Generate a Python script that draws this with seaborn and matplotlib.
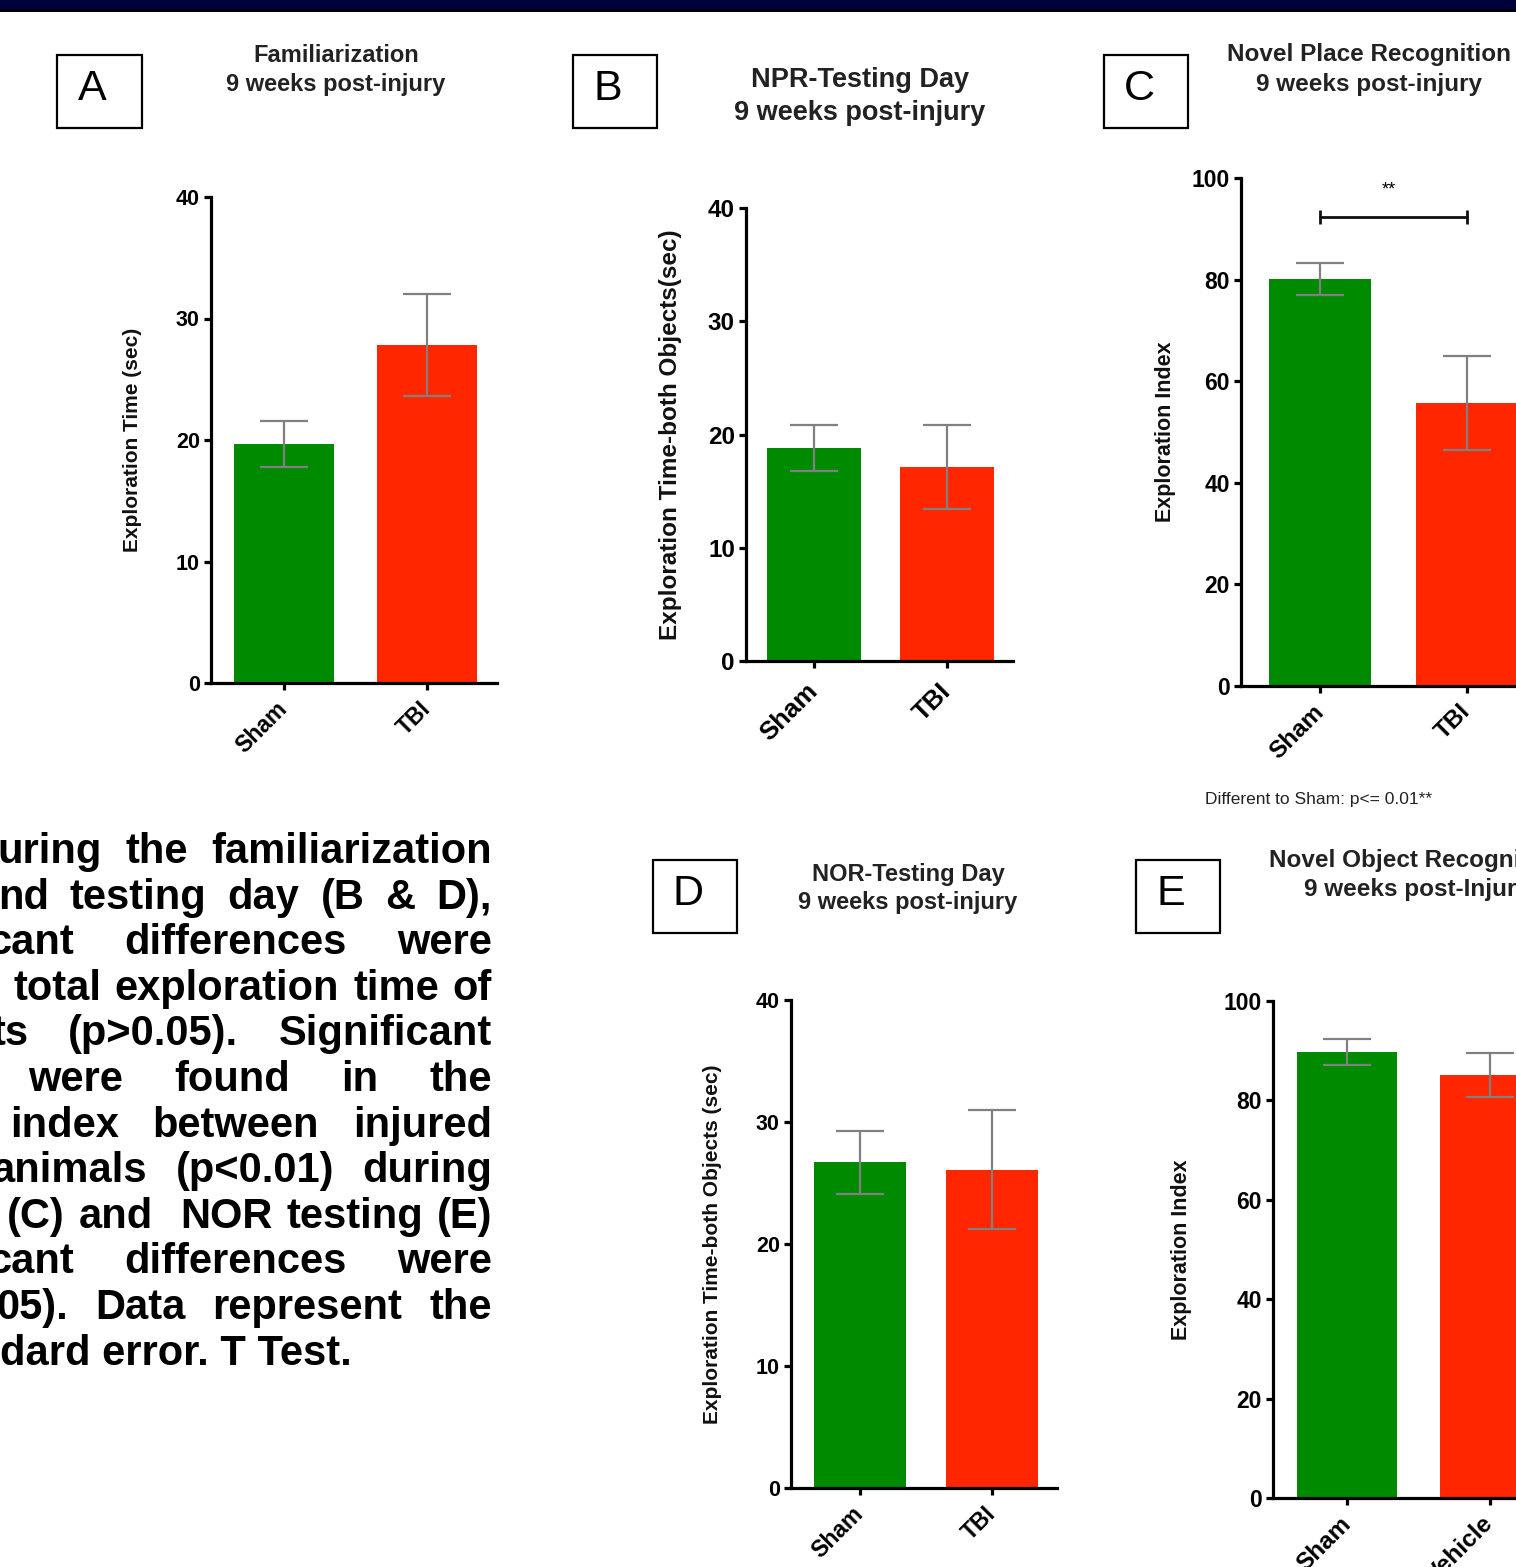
import matplotlib
matplotlib.use("Agg")
import matplotlib.pyplot as plt
import seaborn as sns
import pandas as pd
from matplotlib.patches import Rectangle

W, H = 1516, 1567
GREEN = "#008a00"
RED = "#ff2600"
GRAY = "#808080"

# ---- data read from the poster ----
groups_tbi = ["Sham", "TBI"]
groups_veh = ["Sham", "Vehicle"]

fam_mean = [19.7, 27.8]          # A: familiarization, exploration time (sec)
fam_sem = [1.9, 4.2]
npr_day_mean = [18.8, 17.1]      # B: NPR testing day, time both objects (sec)
npr_day_sem = [2.0, 3.7]
npr_idx_mean = [80.1, 55.7]      # C: novel place recognition, exploration index
npr_idx_sem = [3.1, 9.2]
npr_sig_y = 92.3
nor_day_mean = [26.7, 26.1]      # D: NOR testing day, time both objects (sec)
nor_day_sem = [2.6, 4.9]
nor_idx_mean = [89.7, 85.1]      # E: novel object recognition, exploration index
nor_idx_sem = [2.6, 4.5]

ticks_40 = [0, 10, 20, 30, 40]
ticks_100 = [0, 20, 40, 60, 80, 100]

para_lines = [
    "uring the familiarization",
    "nd testing day (B & D),",
    "cant differences were",
    "total exploration time of",
    "ts (p>0.05). Significant",
    "were found in the",
    "index between injured",
    "animals (p<0.01) during",
    "(C) and  NOR testing (E)",
    "cant differences were",
    "05). Data represent the",
    "dard error. T Test.",
]
# x of the first glyph of each line (negative = clipped by the crop)
para_start = [-3, -2, -12, 13, -9, 28, 10, -8, 7, -12, -4, 0]

sns.set_style("ticks")
plt.rcParams["font.family"] = ["Liberation Sans", "DejaVu Sans"]
plt.rcParams["font.weight"] = "bold"
plt.rcParams["text.color"] = "black"
plt.rcParams["axes.labelcolor"] = "black"
plt.rcParams["xtick.color"] = "black"
plt.rcParams["ytick.color"] = "black"

fig = plt.figure(figsize=(W / 100, H / 100), dpi=100)


def fx(x):
    return x / W


def fy(y):
    return 1 - y / H


# poster header strip
fig.add_artist(Rectangle((0, fy(9)), 1, 9 / H, transform=fig.transFigure, color="#00003a", lw=0))
fig.add_artist(Rectangle((0, fy(12)), 1, 3 / H, transform=fig.transFigure, color="black", lw=0))


def bar_panel(box, cats, means, sems, ymax, yticks, ylabel, fs, lab_fs, lab_x, xpad):
    left, right, top, bottom, t0, t1 = box
    ax = fig.add_axes([fx(left), fy(bottom), (right - left) / W, (bottom - top) / H])
    df = pd.DataFrame({"group": cats, "value": means})
    sns.barplot(data=df, x="group", y="value", hue="group", palette=[GREEN, RED],
                saturation=1, width=0.7, errorbar=None, legend=False, ax=ax,
                edgecolor="none")
    ax.errorbar(range(len(cats)), means, yerr=sems, fmt="none", ecolor=GRAY,
                elinewidth=1.6, capsize=17.5, capthick=1.6, zorder=3)
    ax.set_xlim((left - t0) / (t1 - t0), (right - t0) / (t1 - t0))
    ax.set_ylim(0, ymax)
    ax.set_yticks(yticks)
    ax.set_yticklabels([str(t) for t in yticks], fontsize=fs, fontweight="bold")
    ax.set_xticks(range(len(cats)))
    ax.set_xticklabels(cats, rotation=45, ha="right", va="center", rotation_mode="anchor",
                       fontsize=fs + 1, fontweight="bold")
    ax.set_xlabel("")
    ax.set_ylabel(ylabel, fontsize=lab_fs, fontweight="bold", va="center", color="#111111")
    ax.yaxis.set_label_coords((lab_x - left) / (right - left), 0.5)
    sns.despine(ax=ax)
    for s in ["left", "bottom"]:
        ax.spines[s].set_linewidth(2.3)
        ax.spines[s].set_color("black")
    ax.tick_params(axis="both", direction="out", length=5, width=2.3, color="black", pad=3)
    ax.tick_params(axis="x", pad=xpad)
    ax.set_facecolor("none")
    return ax


def panel_letter(letter, x0, y0, x1, y1):
    fig.add_artist(Rectangle((fx(x0), fy(y1)), (x1 - x0) / W, (y1 - y0) / H,
                             transform=fig.transFigure, fill=False, ec="black", lw=1.6))
    fig.text(fx((x0 + x1) / 2 - 7), fy((y0 + y1) / 2 - 3), letter, ha="center", va="center",
             fontsize=31, fontweight="normal")


def title(lines, cx, ys, fs):
    for txt, y in zip(lines, ys):
        fig.text(fx(cx), fy(y), txt, ha="center", va="center", fontsize=fs,
                 fontweight="bold", color="#222222")


# A
bar_panel((211, 497, 197, 683, 284, 427), groups_tbi, fam_mean, fam_sem, 40, ticks_40,
          "Exploration Time (sec)", 15.5, 15, 133, 11)
panel_letter("A", 57, 55, 142, 128)
title(["Familiarization", "9 weeks post-injury"], 336, [55, 85], 17)

# B
bar_panel((746, 1013, 208, 661, 814, 947), groups_tbi, npr_day_mean, npr_day_sem, 40, ticks_40,
          "Exploration Time-both Objects(sec)", 17.5, 17.5, 670, 14)
panel_letter("B", 573, 55, 657, 128)
title(["NPR-Testing Day", "9 weeks post-injury"], 860, [80, 113], 19.5)

# C
axc = bar_panel((1241, 1541, 178, 686, 1320, 1467), groups_tbi, npr_idx_mean, npr_idx_sem, 100,
                ticks_100, "Exploration Index", 16.5, 15.5, 1165, 11)
axc.plot([0, 1], [npr_sig_y, npr_sig_y], color="#111111", lw=2, marker="|", markersize=10, mew=2)
axc.text(0.47, npr_sig_y + 5.3, "**", ha="center", va="center", fontsize=13, fontweight="normal")
panel_letter("C", 1104, 55, 1188, 128)
title(["Novel Place Recognition", "9 weeks post-injury"], 1369, [55, 85], 17.5)
fig.text(fx(1205), fy(799), "Different to Sham: p<= 0.01**", ha="left", va="center",
         fontsize=12.5, fontweight="normal", color="#222222")

# D
bar_panel((791, 1057, 1000, 1488, 860, 992), groups_tbi, nor_day_mean, nor_day_sem, 40, ticks_40,
          "Exploration Time-both Objects (sec)", 15.5, 15, 713, 11)
panel_letter("D", 653, 860, 737, 933)
title(["NOR-Testing Day", "9 weeks post-injury"], 908, [874, 903], 17)

# E
bar_panel((1273, 1565, 1001, 1498, 1347, 1490), groups_veh, nor_idx_mean, nor_idx_sem, 100,
          ticks_100, "Exploration Index", 16.5, 15.5, 1182, 11)
panel_letter("E", 1136, 860, 1220, 933)
title(["Novel Object Recognition", "9 weeks post-Injury"], 1417, [860, 890], 17.5)

# justified paragraph, cut at the left edge like the poster crop
renderer = fig.canvas.get_renderer()
right_edge = 492
for i, (line, x0) in enumerate(zip(para_lines, para_start)):
    base = 863 + i * 45.6
    if i == len(para_lines) - 1:
        fig.text(fx(x0), fy(base), line, ha="left", va="baseline", fontsize=30, fontweight="bold")
        continue
    words = line.split(" ")
    texts = [fig.text(0, fy(base), w, ha="left", va="baseline", fontsize=30, fontweight="bold")
             for w in words]
    widths = [t.get_window_extent(renderer).width if w else 0 for t, w in zip(texts, words)]
    gap = (right_edge - x0 - sum(widths)) / (len(words) - 1)
    x = x0
    for t, w in zip(texts, widths):
        t.set_x(fx(x))
        x += w + gap

fig.savefig("out.png", dpi=100)
